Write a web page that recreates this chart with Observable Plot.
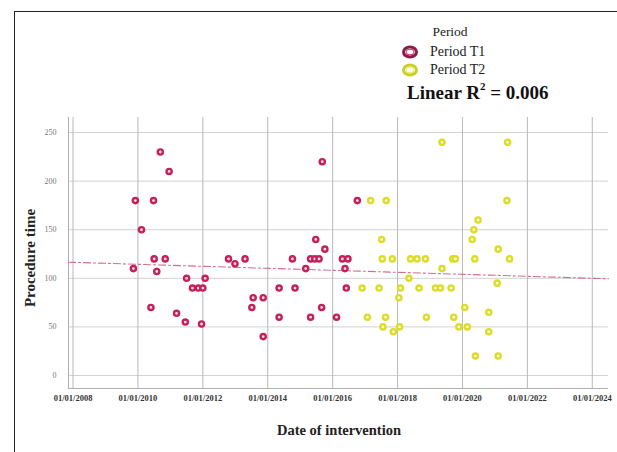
<!DOCTYPE html>
<html><head><meta charset="utf-8">
<script src="https://cdn.jsdelivr.net/npm/d3@7"></script>
<script src="https://cdn.jsdelivr.net/npm/@observablehq/plot@0.6"></script>
<style>
body{margin:0;background:#fff;overflow:hidden;font-family:"Liberation Serif","Times New Roman",serif;}
#wrap{position:relative;width:617px;height:452px;overflow:hidden;}
#border{position:absolute;left:14px;top:11px;width:700px;height:600px;border-left:1.5px solid #222;border-top:1.5px solid #222;}
#chart{position:absolute;left:0;top:0;}
.lg{position:absolute;color:#222;font-size:14px;white-space:nowrap;}
#ytitle{position:absolute;left:30px;top:258px;transform:translate(-50%,-50%) rotate(-90deg);font-weight:bold;font-size:15px;color:#222;white-space:nowrap;}
#xtitle{position:absolute;left:339px;top:430px;transform:translate(-50%,-50%);font-weight:bold;font-size:14.5px;color:#222;white-space:nowrap;}
</style></head>
<body>
<div id="wrap">
  <div id="border"></div>
  <div id="chart"></div>
  <div class="lg" style="left:450px;top:32px;transform:translate(-50%,-50%);font-size:13.5px;">Period</div>
  <svg style="position:absolute;left:400px;top:44px;" width="22" height="34">
    <ellipse cx="10" cy="8" rx="6.5" ry="5" fill="#fff" stroke="#8e1848" stroke-width="3"/>
    <ellipse cx="10" cy="8" rx="4" ry="2.8" fill="none" stroke="#d0306a" stroke-width="1"/>
    <ellipse cx="10" cy="26" rx="6.5" ry="5" fill="#fff" stroke="#c9cf2c" stroke-width="3"/>
    <ellipse cx="10" cy="26" rx="4" ry="2.8" fill="none" stroke="#eeee55" stroke-width="1"/>
  </svg>
  <div class="lg" style="left:430px;top:52px;transform:translateY(-50%);">Period T1</div>
  <div class="lg" style="left:430px;top:70px;transform:translateY(-50%);">Period T2</div>
  <div class="lg" style="left:407px;top:93px;transform:translateY(-50%);font-weight:bold;font-size:19px;color:#111;">Linear R<sup style="font-size:11px;position:relative;top:-2px;">2</sup> = 0.006</div>
  <div id="ytitle">Procedure time</div>
  <div id="xtitle">Date of intervention</div>
</div>
<script>
// Period T1 (red)
const t1Dates = [2010.69,2010.96,2009.92,2010.48,2010.11,2010.50,2010.84,2012.79,2013.30,2012.99,
  2009.86,2010.58,2011.50,2012.07,2011.68,2011.86,2012.00,2013.55,2013.86,2013.51,
  2014.35,2014.35,2013.86,2010.40,2011.19,2011.46,2011.96,2015.68,2016.76,2015.48,
  2015.76,2014.76,2015.32,2015.45,2015.58,2016.30,2016.47,2015.17,2016.38,2014.84,
  2016.42,2015.66,2015.32,2016.12];
const t1Values = [230,210,180,180,150,120,120,120,120,115,
  110,107,100,100,90,90,90,80,80,70,
  90,60,40,70,64,55,53,220,180,140,
  130,120,120,120,120,120,120,110,110,90,
  90,70,60,60];
// Period T2 (yellow)
const t2Dates = [2017.17,2017.65,2017.51,2017.53,2017.84,2018.40,2018.60,2018.86,2016.91,2017.43,
  2018.09,2018.66,2019.17,2018.35,2018.04,2017.07,2017.63,2018.89,2017.55,2018.06,
  2017.87,2019.37,2021.39,2021.37,2020.48,2020.35,2020.30,2021.10,2019.70,2019.78,
  2020.38,2021.45,2019.37,2021.07,2019.32,2019.65,2020.07,2020.81,2019.73,2019.89,
  2020.15,2020.81,2020.40,2021.10];
const t2Values = [180,180,140,120,120,120,120,120,90,90,
  90,90,90,100,80,60,60,60,50,50,
  45,240,240,180,160,150,140,130,120,120,
  120,120,110,95,90,90,70,65,60,50,
  50,45,20,20];
// Linear fit line (whole range)
const fitDates = [2007.86, 2024.5];
const fitValues = [116.6, 99.5];
// Axes
const xDomain = [2007.86, 2024.5];
const yDomain = [-13.4, 265.5];
const xTicks = [2008,2010,2012,2014,2016,2018,2020,2022,2024];
const yTicks = [0,50,100,150,200,250];

const t1 = t1Dates.map((d,i)=>({date:d, value:t1Values[i]}));
const t2 = t2Dates.map((d,i)=>({date:d, value:t2Values[i]}));
const fit = fitDates.map((d,i)=>({date:d, value:fitValues[i]}));

const chart = Plot.plot({
  width:617, height:452,
  marginTop:117, marginBottom:64, marginLeft:68, marginRight:9,
  style:{fontFamily:'"Liberation Serif", serif', background:"transparent"},
  x:{domain:xDomain, label:null},
  y:{domain:yDomain, label:null},
  marks:[
    Plot.gridY(yTicks,{stroke:"#d2d2d2", strokeOpacity:1}),
    Plot.gridX(xTicks,{stroke:"#b8b8b8", strokeOpacity:1}),
    Plot.ruleX([xDomain[0]],{stroke:"#b0b0b0"}),
    Plot.ruleY([yDomain[0]],{stroke:"#b0b0b0"}),
    Plot.axisX(xTicks,{tickSize:0, tickPadding:6, tickFormat:d=>"01/01/"+d, fontSize:8.5, fontWeight:"bold", fill:"#333", label:null}),
    Plot.axisY(yTicks,{tickSize:0, tickPadding:12, fontSize:8, fill:"#777", label:null}),
    Plot.line(fit,{x:"date", y:"value", stroke:"#cf7088", strokeWidth:1.1, strokeDasharray:"7,3,2,3"}),
    Plot.dot(t1,{x:"date", y:"value", r:2.6, stroke:"#c4205a", strokeWidth:2.4, fill:"#f4dde6"}),
    Plot.dot(t2,{x:"date", y:"value", r:2.6, stroke:"#dcdc2a", strokeWidth:2.4, fill:"#fbfbdc"})
  ]
});
document.getElementById("chart").appendChild(chart);
</script>
</body></html>
